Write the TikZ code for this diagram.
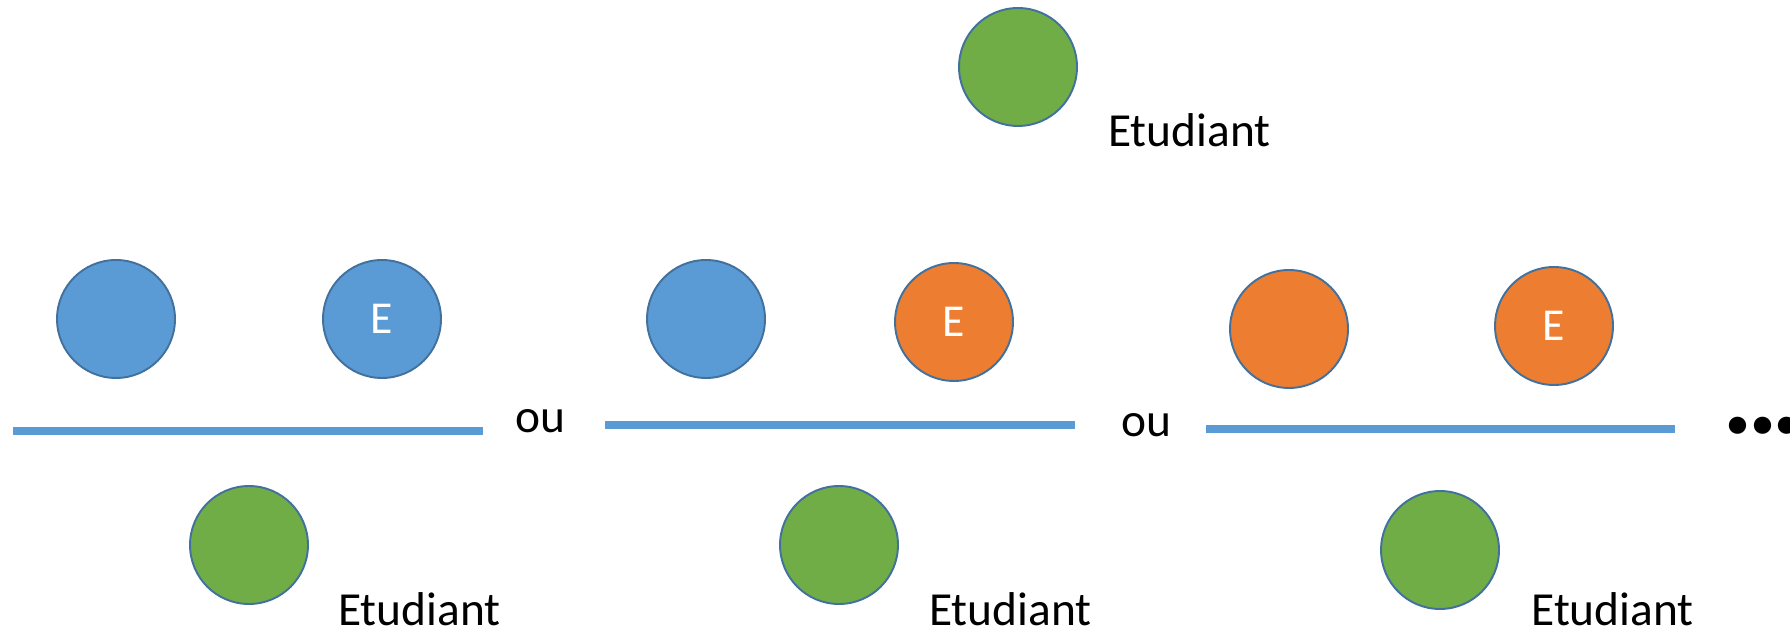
\documentclass[tikz,border=0pt]{standalone}
\usepackage{fontspec}
\setmainfont{Carlito}
\usetikzlibrary{positioning}
\definecolor{cbleu}{HTML}{5B9BD5}
\definecolor{corange}{HTML}{ED7D31}
\definecolor{cvert}{HTML}{70AD47}
\definecolor{cbord}{HTML}{41719C}

\begin{document}
\begin{tikzpicture} [
    x = 0.02cm, y = -0.02cm,
    boule/.style = { circle, draw = cbord, line width = 1.1pt, minimum size = 2.36cm, inner sep = 0,
                     text = white, font = \fontsize{26}{30}\selectfont },
    bleue/.style = { boule, fill = cbleu },
    orangee/.style = { boule, fill = corange },
    verte/.style = { boule, fill = cvert },
    barre/.style = { cbleu, line width = 4.2pt },
    etiq/.style = { anchor = base west, inner sep = 0, font = \fontsize{27}{32}\selectfont },
    ou/.style = { inner sep = 0, font = \fontsize{27}{32}\selectfont }
    ]
    \useasboundingbox (0,0) rectangle (1790,634);

    % etudiant du haut
    \node [verte] (v0) at (1018,67) {};
    \node [etiq] (t0) at (1108,147) {Etudiant};

    % premier cas
    \node [bleue] (a1) at (116,319) {};
    \node [bleue] (e1) at (382,319) {E};
    \draw [barre] (13,431) -- (483,431);
    \node [verte] (v1) at (249,545) {};
    \node [etiq] (t1) at (338,625) {Etudiant};
    \node [ou] (ou1) at (540,421) {ou};

    % deuxieme cas
    \node [bleue] (a2) at (706,319) {};
    \node [orangee] (e2) at (954,322) {E};
    \draw [barre] (605,425) -- (1075,425);
    \node [verte] (v2) at (839,545) {};
    \node [etiq] (t2) at (929,625) {Etudiant};
    \node [ou] (ou2) at (1146,425) {ou};

    % troisieme cas
    \node [orangee] (a3) at (1289,329) {};
    \node [orangee] (e3) at (1554,326) {E};
    \draw [barre] (1206,429) -- (1675,429);
    \node [verte] (v3) at (1440,550) {};
    \node [etiq] (t3) at (1531,625) {Etudiant};

    \node [anchor = base west, inner sep = 0, font = \fontsize{66}{70}\selectfont\bfseries] (pts) at (1722,433) {.\kern-3.6pt.\kern-3.6pt.};

\end{tikzpicture}
\end{document}
